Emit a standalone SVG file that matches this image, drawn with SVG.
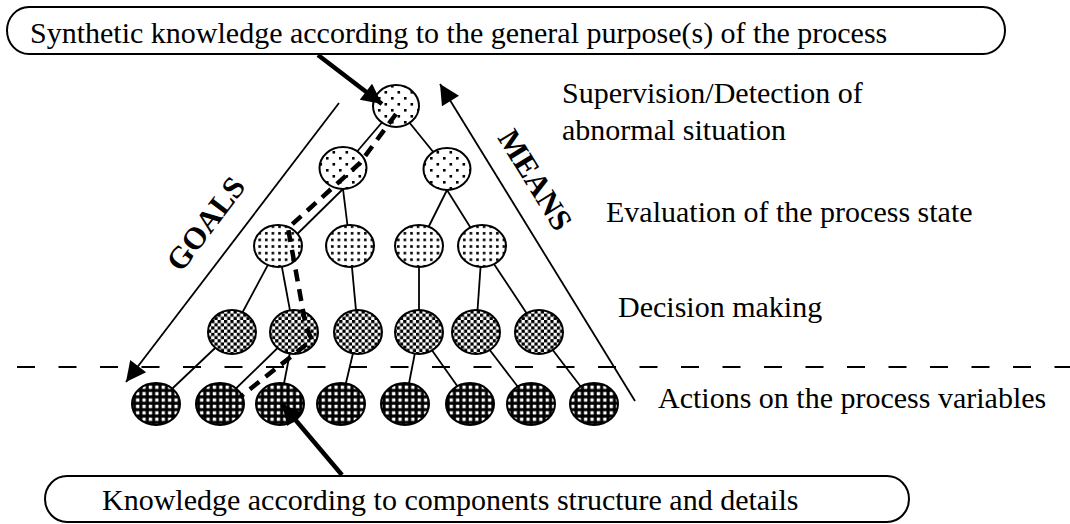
<svg xmlns="http://www.w3.org/2000/svg" width="1070" height="524" viewBox="0 0 1070 524">
<style>
text{font-family:"Liberation Serif","Times New Roman",serif;font-size:30px;fill:#000}
.bold{font-weight:bold;font-size:31px}
.box{fill:#fff;stroke:#000;stroke-width:2}
.edge{stroke:#000;stroke-width:1.8;fill:none}
.node{stroke:#000;stroke-width:2}
.n1{fill:url(#p1)}.n2{fill:url(#p2)}.n3{fill:url(#p3)}.n4{fill:url(#p4)}
.thin{stroke:#000;stroke-width:1.8;fill:none}
.thick{stroke:#000;stroke-width:4.5;fill:none}
</style>
<defs>
<pattern id="p1" width="13" height="12" patternUnits="userSpaceOnUse"><rect width="13" height="12" fill="#fff"/><rect x="1" y="1" width="2.6" height="2.6" fill="#000"/><rect x="7.5" y="7" width="2.6" height="2.6" fill="#000"/></pattern>
<pattern id="p2" width="6.6" height="6.6" patternUnits="userSpaceOnUse"><rect width="6.6" height="6.6" fill="#fff"/><rect x="1" y="1" width="2.6" height="2.6" fill="#000"/></pattern>
<pattern id="p3" width="6.4" height="6.4" patternUnits="userSpaceOnUse"><rect width="6.4" height="6.4" fill="#fff"/><rect x="0" y="0" width="3.2" height="3.2" fill="#000"/><rect x="3.2" y="3.2" width="3.2" height="3.2" fill="#000"/></pattern>
<pattern id="p4" width="6.4" height="6.4" patternUnits="userSpaceOnUse"><rect width="6.4" height="6.4" fill="#000"/><rect x="1.6" y="1.6" width="3.3" height="3.3" fill="#fff"/></pattern>
<marker id="ahBig" viewBox="0 0 10 10" refX="10" refY="5" markerWidth="32" markerHeight="20" markerUnits="userSpaceOnUse" orient="auto"><path d="M0,0 L10,5 L0,10 Z" fill="#000"/></marker>
<marker id="ahThick" viewBox="0 0 10 10" refX="10" refY="5" markerWidth="7" markerHeight="4.5" orient="auto"><path d="M0,0 L10,5 L0,10 Z" fill="#000"/></marker>
</defs>

<g id="box-top"><rect class="box" x="7" y="7" width="998" height="47" rx="22" ry="23.5"/><text x="30" y="43">Synthetic knowledge according to the general purpose(s) of the process</text></g>
<g id="box-bottom"><rect class="box" x="45" y="476" width="864" height="46" rx="22" ry="23"/><text x="102" y="510">Knowledge according to components structure and details</text></g>

<g id="levels">
<line x1="17" y1="367" x2="1070" y2="367" stroke="#000" stroke-width="2" stroke-dasharray="18 23.5"/>
<text x="562" y="103">Supervision/Detection of</text>
<text x="562" y="140">abnormal situation</text>
<text x="606" y="222">Evaluation of the process state</text>
<text x="618" y="317">Decision making</text>
<text x="658" y="408">Actions on the process variables</text>
</g>

<g id="goals"><line class="thin" x1="339" y1="103" x2="126" y2="382" marker-end="url(#ahBig)"/><text class="bold" transform="translate(206,224) rotate(-52.8)" x="0" y="10" text-anchor="middle">GOALS</text></g>
<g id="means"><line class="thin" x1="635" y1="401" x2="440" y2="84" marker-end="url(#ahBig)"/><text class="bold" transform="translate(535,180) rotate(58.3)" x="0" y="10" text-anchor="middle">MEANS</text></g>

<g id="connectors">
<line class="edge" x1="396" y1="106" x2="343" y2="168"/>
<line class="edge" x1="396" y1="106" x2="447" y2="169"/>
<line class="edge" x1="343" y1="189" x2="285" y2="246"/>
<line class="edge" x1="343" y1="189" x2="350" y2="246"/>
<line class="edge" x1="447" y1="190" x2="419" y2="246"/>
<line class="edge" x1="447" y1="190" x2="482" y2="246"/>
<line class="edge" x1="278" y1="246" x2="232" y2="332"/>
<line class="edge" x1="278" y1="246" x2="294" y2="332"/>
<line class="edge" x1="350" y1="246" x2="358" y2="332"/>
<line class="edge" x1="419" y1="246" x2="419" y2="332"/>
<line class="edge" x1="482" y1="246" x2="476" y2="332"/>
<line class="edge" x1="482" y1="246" x2="539" y2="332"/>
<line class="edge" x1="232" y1="332" x2="156" y2="404"/>
<line class="edge" x1="294" y1="332" x2="220" y2="404"/>
<line class="edge" x1="294" y1="332" x2="280" y2="404"/>
<line class="edge" x1="358" y1="332" x2="341" y2="404"/>
<line class="edge" x1="419" y1="332" x2="405" y2="404"/>
<line class="edge" x1="419" y1="332" x2="470" y2="404"/>
<line class="edge" x1="476" y1="332" x2="531" y2="404"/>
<line class="edge" x1="539" y1="332" x2="594" y2="404"/>
</g>

<g id="n-top"><ellipse class="node n1" cx="396" cy="106" rx="23" ry="21"/></g>
<g id="n-2a"><ellipse class="node n1" cx="343" cy="168" rx="23.5" ry="21"/></g>
<g id="n-2b"><ellipse class="node n1" cx="447" cy="169" rx="23.5" ry="21"/></g>
<g id="n-3a"><ellipse class="node n2" cx="278" cy="246" rx="24" ry="21"/></g>
<g id="n-3b"><ellipse class="node n2" cx="350" cy="246" rx="24" ry="21"/></g>
<g id="n-3c"><ellipse class="node n2" cx="419" cy="246" rx="24" ry="21"/></g>
<g id="n-3d"><ellipse class="node n2" cx="482" cy="246" rx="24" ry="21"/></g>
<g id="n-4a"><ellipse class="node n3" cx="232" cy="332" rx="24" ry="22"/></g>
<g id="n-4b"><ellipse class="node n3" cx="294" cy="332" rx="24" ry="22"/></g>
<g id="n-4c"><ellipse class="node n3" cx="358" cy="332" rx="24" ry="22"/></g>
<g id="n-4d"><ellipse class="node n3" cx="419" cy="332" rx="24" ry="22"/></g>
<g id="n-4e"><ellipse class="node n3" cx="476" cy="332" rx="24" ry="22"/></g>
<g id="n-4f"><ellipse class="node n3" cx="539" cy="332" rx="24" ry="22"/></g>
<g id="n-5a"><ellipse class="node n4" cx="156" cy="404" rx="24" ry="21"/></g>
<g id="n-5b"><ellipse class="node n4" cx="220" cy="404" rx="24" ry="21"/></g>
<g id="n-5c"><ellipse class="node n4" cx="280" cy="404" rx="24" ry="21"/></g>
<g id="n-5d"><ellipse class="node n4" cx="341" cy="404" rx="24" ry="21"/></g>
<g id="n-5e"><ellipse class="node n4" cx="405" cy="404" rx="24" ry="21"/></g>
<g id="n-5f"><ellipse class="node n4" cx="470" cy="404" rx="24" ry="21"/></g>
<g id="n-5g"><ellipse class="node n4" cx="531" cy="404" rx="24" ry="21"/></g>
<g id="n-5h"><ellipse class="node n4" cx="594" cy="404" rx="24" ry="21"/></g>

<g id="path-and-arrows">
<path d="M396,114 L360,163 L288,228 L306,327 L312,340 L240,397" fill="none" stroke="#000" stroke-width="4.5" stroke-dasharray="12 8"/>
<line class="thick" x1="318" y1="55" x2="382" y2="104" marker-end="url(#ahThick)"/>
<line class="thick" x1="342" y1="475" x2="282" y2="404" marker-end="url(#ahThick)"/>
</g>
</svg>
